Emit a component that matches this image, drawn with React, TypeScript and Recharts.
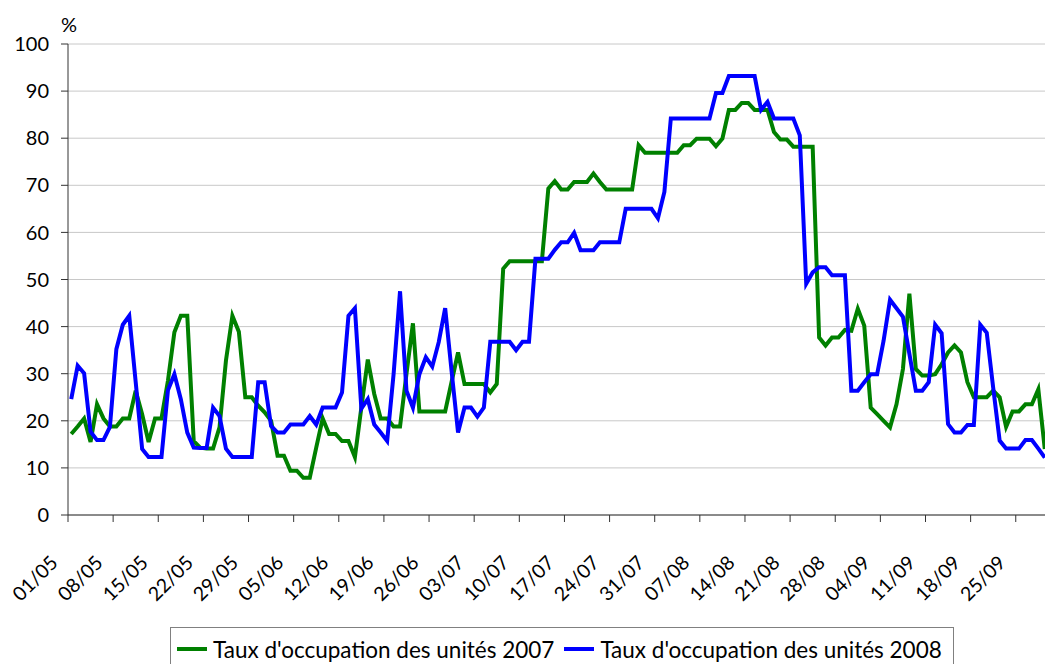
import { LineChart, Line, XAxis, YAxis, CartesianGrid, Legend } from "recharts"

// x-axis labels, one every 7 days starting 01/05
const tickLabels = [
  "01/05", "08/05", "15/05", "22/05", "29/05", "05/06", "12/06", "19/06", "26/06", "03/07", "10/07",
  "17/07", "24/07", "31/07", "07/08", "14/08", "21/08", "28/08", "04/09", "11/09", "18/09", "25/09",
]

const yTicks = [0, 10, 20, 30, 40, 50, 60, 70, 80, 90, 100]

// daily occupancy rate (%) from 01/05 to 29/09
const occupancy2007 = [
  17.2, 18.8, 20.5, 15.5, 23.5, 20.5, 18.8, 18.8, 20.5, 20.5,
  26.4, 21.4, 15.5, 20.5, 20.5, 28.5, 38.8, 42.3, 42.3, 15.7,
  14.3, 14.1, 14.1, 18.6, 32.8, 42.3, 38.9, 25.0, 25.0, 23.2,
  21.8, 20.0, 12.6, 12.6, 9.4, 9.4, 7.9, 7.9, 14.3, 20.5,
  17.2, 17.2, 15.7, 15.7, 12.3, 22.8, 33.0, 25.7, 20.5, 20.5,
  18.8, 18.8, 30.0, 40.7, 22.0, 22.0, 22.0, 22.0, 22.0, 28.3,
  34.5, 27.8, 27.8, 27.8, 27.8, 26.0, 27.8, 52.3, 53.9, 53.9,
  53.9, 53.9, 53.9, 53.9, 69.3, 70.9, 69.1, 69.1, 70.7, 70.7,
  70.7, 72.5, 70.7, 69.1, 69.1, 69.1, 69.1, 69.1, 78.5, 76.9,
  76.9, 76.9, 76.9, 76.9, 76.9, 78.5, 78.5, 79.9, 79.9, 79.9,
  78.3, 79.9, 86.0, 86.0, 87.5, 87.5, 86.0, 86.0, 86.0, 81.3,
  79.7, 79.7, 78.2, 78.2, 78.2, 78.2, 37.7, 36.0, 37.7, 37.7,
  39.3, 39.1, 43.8, 40.2, 22.8, 21.4, 20.0, 18.6, 23.5, 31.0,
  47.0, 31.0, 29.6, 29.6, 29.9, 32.0, 34.5, 36.0, 34.5, 28.2,
  25.0, 25.0, 25.0, 26.4, 25.0, 18.7, 22.0, 22.0, 23.5, 23.5,
  26.7, 14.0,
]

const occupancy2008 = [
  24.6, 31.7, 30.1, 17.7, 15.9, 15.9, 18.7, 35.2, 40.4, 42.3,
  28.2, 14.0, 12.3, 12.3, 12.3, 26.5, 29.9, 24.6, 17.5, 14.3,
  14.2, 14.2, 22.8, 21.0, 14.1, 12.3, 12.3, 12.3, 12.3, 28.2,
  28.2, 18.9, 17.5, 17.5, 19.2, 19.2, 19.2, 21.0, 19.2, 22.8,
  22.8, 22.8, 26.0, 42.3, 43.9, 22.6, 24.6, 19.2, 17.5, 15.7,
  29.9, 47.5, 26.4, 22.8, 29.9, 33.5, 31.5, 36.7, 43.9, 30.5,
  17.5, 22.8, 22.8, 20.9, 22.8, 36.8, 36.8, 36.8, 36.8, 35.0,
  36.8, 36.8, 54.4, 54.4, 54.4, 56.3, 57.9, 57.9, 59.9, 56.2,
  56.2, 56.2, 57.9, 57.9, 57.9, 57.9, 65.0, 65.0, 65.0, 65.0,
  65.0, 63.0, 68.6, 84.2, 84.2, 84.2, 84.2, 84.2, 84.2, 84.2,
  89.6, 89.6, 93.2, 93.2, 93.2, 93.2, 93.2, 86.0, 87.7, 84.2,
  84.2, 84.2, 84.2, 80.6, 49.1, 51.5, 52.6, 52.6, 50.9, 50.9,
  50.9, 26.4, 26.4, 28.2, 29.9, 29.9, 37.0, 45.7, 43.9, 42.1,
  34.2, 26.4, 26.4, 28.2, 40.4, 38.6, 19.3, 17.5, 17.5, 19.1,
  19.1, 40.4, 38.7, 27.0, 15.8, 14.1, 14.1, 14.1, 15.9, 15.9,
  14.1, 12.2,
]

const data = occupancy2007.map((v, i) => ({ day: i, y2007: v, y2008: occupancy2008[i] }))
const xTicks = tickLabels.map((_, k) => k * 7 - 0.5)

const FONT = "Lato, 'DejaVu Sans', sans-serif"

function DateTick(props: any) {
  const { x, y, payload } = props
  const label = tickLabels[Math.round((payload.value + 0.5) / 7)]
  const ax = x - 9
  const ay = y + 40
  return (
    <text x={ax} y={ay} textAnchor="end" fontSize={19.5} fontFamily={FONT} fill="#000" transform={`rotate(-45, ${ax}, ${ay})`}>
      {label}
    </text>
  )
}

function LegendBox(props: any) {
  const items = props.payload || []
  return (
    <div style={{ border: "1px solid #808080", height: 44, display: "flex", alignItems: "center", paddingLeft: 6, fontFamily: FONT, fontSize: 22.5, color: "#000", boxSizing: "border-box" }}>
      {items.map((it: any) => (
        <div key={it.value} style={{ display: "flex", alignItems: "center", marginRight: 10 }}>
          <span style={{ display: "inline-block", width: 30, height: 4, background: it.color, marginRight: 6 }} />
          <span style={{ whiteSpace: "nowrap" }}>{it.value}</span>
        </div>
      ))}
    </div>
  )
}

export default function App() {
  return (
    <div style={{ position: "absolute", left: 0, top: 0, width: 1045, height: 664, overflow: "hidden", background: "#fff" }}>
      <LineChart width={1050} height={664} data={data} margin={{ top: 44, right: 2, left: 0, bottom: 0 }}>
        <CartesianGrid vertical={false} stroke="#c8c8c8" />
        <XAxis
          dataKey="day"
          type="number"
          domain={[-0.5, 151.5]}
          ticks={xTicks}
          interval={0}
          height={149}
          tickSize={7}
          stroke="#333"
          tick={<DateTick />}
        />
        <YAxis
          domain={[0, 100]}
          ticks={yTicks}
          width={68}
          tickSize={7}
          tickMargin={12}
          stroke="#333"
          tick={{ fill: "#000", fontSize: 20, fontFamily: FONT }}
          label={{ value: "%", position: "top", offset: 12, dx: 35, fill: "#000", fontSize: 20, fontFamily: FONT }}
        />
        <Legend
          layout="horizontal"
          verticalAlign="middle"
          align="center"
          content={<LegendBox />}
          wrapperStyle={{ position: "absolute", left: 170, top: 627, width: 784 }}
        />
        <Line type="linear" dataKey="y2007" name="Taux d'occupation des unités 2007" stroke="#008000" strokeWidth={4} dot={false} isAnimationActive={false} />
        <Line type="linear" dataKey="y2008" name="Taux d'occupation des unités 2008" stroke="#0000ff" strokeWidth={4} dot={false} isAnimationActive={false} />
      </LineChart>
    </div>
  )
}
